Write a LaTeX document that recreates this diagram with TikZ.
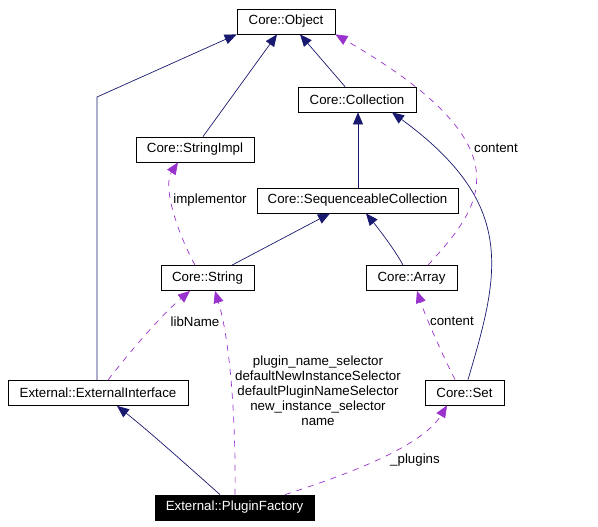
\documentclass[tikz,border=0pt]{standalone}
\usepackage{fontspec}
\setmainfont{Liberation Sans}
\usetikzlibrary{arrows.meta,calc}
\definecolor{inhcol}{HTML}{191970}
\definecolor{usecol}{HTML}{9A32CD}
\begin{document}
\begin{tikzpicture}[x=1pt,y=-1pt,
  box/.style={draw=black,line width=0.8pt,minimum height=25pt,inner sep=0pt,font=\fontsize{13.3}{15}\selectfont},
  inh/.style={draw=inhcol,line width=0.7pt,-{Triangle[length=12pt,width=10pt]}},
  use/.style={draw=usecol,line width=0.7pt,dash pattern=on 6pt off 6pt,-{Triangle[length=12pt,width=10pt]}},
  lbl/.style={font=\fontsize{13.3}{15}\selectfont,inner sep=0pt,align=center}]
\useasboundingbox (0,0) rectangle (598,527);
\fill[white] (0,0) rectangle (598,527);
% nodes
\node[box,minimum width=98pt] (obj) at (286,21.5) {Core::Object};
\node[box,minimum width=118pt] (coll) at (357,99.5) {Core::Collection};
\node[box,minimum width=118pt] (simpl) at (195,149.5) {Core::StringImpl};
\node[box,minimum width=201pt] (seq) at (357.5,200.5) {Core::SequenceableCollection};
\node[box,minimum width=93pt] (str) at (207.5,278) {Core::String};
\node[box,minimum width=91pt] (arr) at (411.5,278) {Core::Array};
\node[box,minimum width=180pt] (ext) at (98,393) {External::ExternalInterface};
\node[box,minimum width=79pt] (set) at (464.5,392.5) {Core::Set};
\node[box,fill=black,text=white,minimum width=159pt] (pf) at (234.5,507.5) {External::PluginFactory};
\coordinate (bendA) at (97,97);
% inheritance
\draw[inh] ($(ext.north)+(-1,0)$) -- (bendA) -- (obj.south west);
\draw[inh] ($(simpl.north)+(8,0)$) -- ($(obj.south)+(-9,0)$);
\draw[inh] ($(coll.north)+(-12,0)$) -- ($(obj.south)+(14,0)$);
\draw[inh] ($(seq.north)+(0.5,0)$) -- ($(coll.south)+(1,0)$);
\draw[inh] ($(str.north)+(24.5,0)$) -- ($(seq.south)+(-27.5,0)$);
\draw[inh] ($(arr.north)+(-8.5,0)$) .. controls (395,250) and (378,228) .. ($(seq.south)+(8.5,0)$);
\draw[inh] ($(set.north)+(3.5,0)$) .. controls (500,272) and (517,204) .. ($(coll.south)+(35,0)$);
\draw[inh] ($(pf.north)+(-14.5,0)$) .. controls (190,468) and (150,432) .. ($(ext.south)+(19,0)$);
% usage
\draw[use] ($(arr.north)+(16.5,0)$) .. controls (482,206) and (530,147) .. (obj.south east);
\node[lbl] (lcont1) at (496,148) {content};
\draw[use] ($(str.north)+(-12.5,0)$) .. controls (175,228) and (163,185) .. ($(simpl.south)+(-17,0)$);
\node[lbl] (limpl) at (210,200) {implementor};
\draw[use] ($(ext.north)+(10,0)$) .. controls (135,345) and (165,312) .. ($(str.south)+(-17.5,0)$);
\node[lbl] (llib) at (195,322) {libName};
\draw[use] ($(pf.north)+(0.5,0)$) .. controls (236,420) and (230,340) .. ($(str.south)+(7.5,0)$);
\node[lbl] (lpf) at (318,391) {plugin\_name\_selector\\defaultNewInstanceSelector\\defaultPluginNameSelector\\new\_instance\_selector\\name};
\draw[use] ($(pf.north)+(50.5,0)$) .. controls (330,480) and (420,450) .. ($(set.south)+(-17.5,0)$);
\node[lbl] (lplug) at (415,460) {\_plugins};
\draw[use] ($(set.north)+(-9.5,0)$) .. controls (440,350) and (425,315) .. ($(arr.south)+(5.5,0)$);
\node[lbl] (lcont2) at (452,321) {content};
\end{tikzpicture}
\end{document}
